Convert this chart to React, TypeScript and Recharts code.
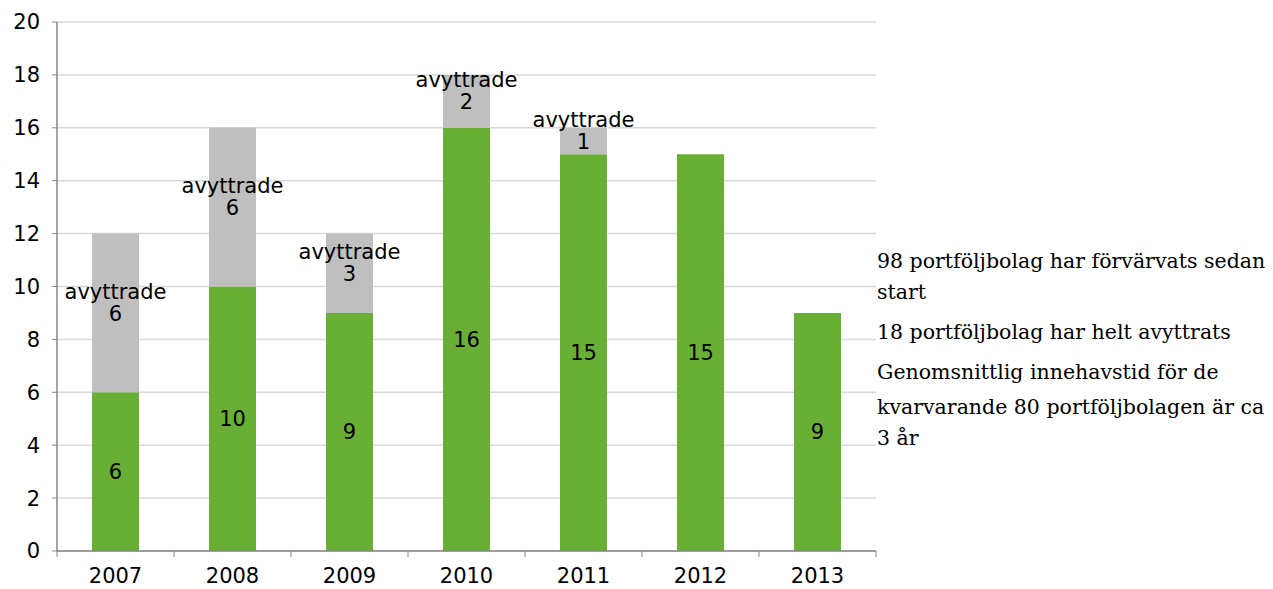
import React from 'react';
import { BarChart, Bar, XAxis, YAxis, CartesianGrid, LabelList } from 'recharts';

const years = ['2007', '2008', '2009', '2010', '2011', '2012', '2013'];
const remaining = [6, 10, 9, 16, 15, 15, 9];
const divested = [6, 6, 3, 2, 1, 0, 0];
const yTicks = [0, 2, 4, 6, 8, 10, 12, 14, 16, 18, 20];

const data = years.map((year, i) => ({
  year,
  remaining: remaining[i],
  divested: divested[i],
}));

const BAND = 117;
const FONT = 'DejaVu Sans';
const FS = 21;

const XTick = (props: any) => {
  const { x, y, payload, index } = props;
  const axisY = y - 8;
  return (
    <g>
      <line x1={x - BAND / 2} x2={x - BAND / 2} y1={axisY} y2={axisY + 6} stroke="#868686" />
      {index === years.length - 1 && (
        <line x1={x + BAND / 2} x2={x + BAND / 2} y1={axisY} y2={axisY + 6} stroke="#868686" />
      )}
      <text x={x} y={axisY + 32} textAnchor="middle" fontSize={FS} fill="#000" fontFamily={FONT}>
        {payload.value}
      </text>
    </g>
  );
};

const DivestedLabel = (props: any) => {
  const { x, y, width, height, value } = props;
  if (!value) return null;
  const cx = x + width / 2;
  const cy = y + height / 2;
  return (
    <g fontFamily={FONT} fontSize={FS} fill="#000">
      <text x={cx} y={cy - 21} textAnchor="middle" dominantBaseline="central">avyttrade</text>
      <text x={cx} y={cy + 1} textAnchor="middle" dominantBaseline="central">{value}</text>
    </g>
  );
};

// side notes, one entry per line with its vertical centre
const sideLines = [
  { text: '98 portföljbolag har förvärvats sedan', y: 261 },
  { text: 'start', y: 292 },
  { text: '18 portföljbolag har helt avyttrats', y: 332 },
  { text: 'Genomsnittlig innehavstid för de', y: 372 },
  { text: 'kvarvarande 80 portföljbolagen är ca', y: 407 },
  { text: '3 år', y: 438 },
];

export default function App() {
  return (
    <div style={{ position: 'absolute', left: 0, top: 0, width: 1273, height: 589, background: '#fff' }}>
      <BarChart
        width={1273}
        height={589}
        data={data}
        margin={{ top: 22, right: 397, bottom: 0, left: 0 }}
        barSize={47}
      >
        <CartesianGrid vertical={false} stroke="#d9d9d9" strokeWidth={1.5} />
        <XAxis
          dataKey="year"
          axisLine={{ stroke: '#868686', strokeWidth: 1.5 }}
          tickLine={false}
          tick={<XTick />}
          height={38}
          interval={0}
        />
        <YAxis
          domain={[0, 20]}
          ticks={yTicks}
          interval={0}
          width={57}
          axisLine={{ stroke: '#868686', strokeWidth: 1.5 }}
          tickLine={{ stroke: '#868686' }}
          tickSize={5}
          tickMargin={12}
          tick={{ fontSize: FS, fill: '#000', fontFamily: FONT }}
        />
        <Bar dataKey="remaining" stackId="a" fill="#6aaf35" isAnimationActive={false}>
          <LabelList dataKey="remaining" position="center" fontSize={FS} fill="#000" fontFamily={FONT} />
        </Bar>
        <Bar dataKey="divested" stackId="a" fill="#bfbfbf" isAnimationActive={false}>
          <LabelList dataKey="divested" content={<DivestedLabel />} />
        </Bar>
      </BarChart>
      {sideLines.map((l, i) => (
        <div
          key={i}
          style={{
            position: 'absolute',
            left: 877,
            top: l.y - 15,
            height: 30,
            lineHeight: '30px',
            fontFamily: '"DejaVu Serif", serif',
            fontSize: 20.5,
            color: '#000',
            whiteSpace: 'nowrap',
          }}
        >
          {l.text}
        </div>
      ))}
    </div>
  );
}
